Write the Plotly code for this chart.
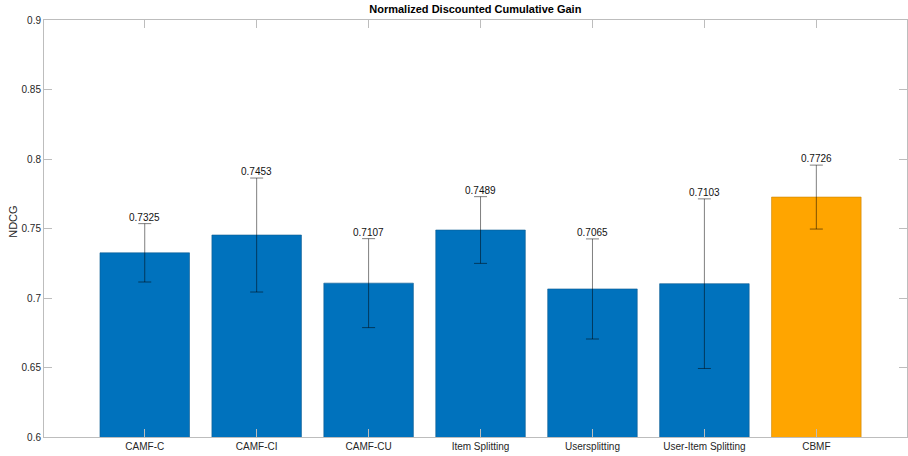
import plotly.graph_objects as go

# NDCG per method with standard-deviation error bars
methods = ["CAMF-C", "CAMF-CI", "CAMF-CU", "Item Splitting",
           "Usersplitting", "User-Item Splitting", "CBMF"]
ndcg = [0.7325, 0.7453, 0.7107, 0.7489, 0.7065, 0.7103, 0.7726]
ndcg_std = [0.021, 0.041, 0.032, 0.024, 0.036, 0.061, 0.023]
bar_colors = ["#0072BD"] * 6 + ["#FFA500"]
edge_colors = ["#0b5a90"] * 6 + ["#c98300"]

x_pos = list(range(1, len(methods) + 1))
font_family = "Liberation Sans, Arial, Helvetica, sans-serif"
axis_color = "#bdbdbd"
text_color = "#262626"

fig = go.Figure()
fig.add_trace(go.Bar(
    x=x_pos,
    y=ndcg,
    width=0.8,
    marker=dict(color=bar_colors, line=dict(color=edge_colors, width=0.6)),
    error_y=dict(type="data", array=ndcg_std, visible=True,
                 color="rgba(0,0,0,0.5)", thickness=1, width=6.5),
    showlegend=False,
    hoverinfo="skip",
))

# value labels sitting just above each error bar cap
for xi, v, s in zip(x_pos, ndcg, ndcg_std):
    fig.add_annotation(
        x=xi, y=v + s, text=f"{v:.4f}", showarrow=False,
        yanchor="bottom", yshift=-1,
        font=dict(family=font_family, size=10, color="#111111"),
    )

# y-axis label placed as rotated text left of the tick labels
fig.add_annotation(
    xref="paper", yref="paper", x=-0.0353, y=0.515,
    text="NDCG", textangle=-90, showarrow=False,
    xanchor="center", yanchor="middle",
    font=dict(family=font_family, size=11, color=text_color),
)

fig.update_layout(
    width=908, height=456,
    template="none",
    paper_bgcolor="white", plot_bgcolor="white",
    margin=dict(l=43.5, r=1, t=19.5, b=18.7),
    font=dict(family=font_family, size=10, color=text_color),
    title=dict(text="<b>Normalized Discounted Cumulative Gain</b>",
               x=0.5235, xanchor="center", y=0.979, yanchor="middle",
               font=dict(family=font_family, size=11, color="#000000")),
    bargap=0.2,
)

fig.update_xaxes(
    range=[0.1, 7.81],
    tickmode="array", tickvals=x_pos, ticktext=methods,
    ticks="inside", ticklen=8, tickcolor=axis_color, tickwidth=1,
    showline=True, linecolor=axis_color, linewidth=1, mirror="ticks",
    showgrid=False, zeroline=False, automargin=False,
    tickfont=dict(family=font_family, size=10, color=text_color),
)

fig.update_yaxes(
    range=[0.6, 0.9],
    tickmode="array",
    tickvals=[0.6, 0.65, 0.7, 0.75, 0.8, 0.85, 0.9],
    ticktext=["0.6", "0.65", "0.7", "0.75", "0.8", "0.85", "0.9"],
    ticks="inside", ticklen=8, tickcolor=axis_color, tickwidth=1,
    showline=True, linecolor=axis_color, linewidth=1, mirror="ticks",
    showgrid=False, zeroline=False, automargin=False,
    tickfont=dict(family=font_family, size=10, color=text_color),
)

fig.write_html("out.html")
